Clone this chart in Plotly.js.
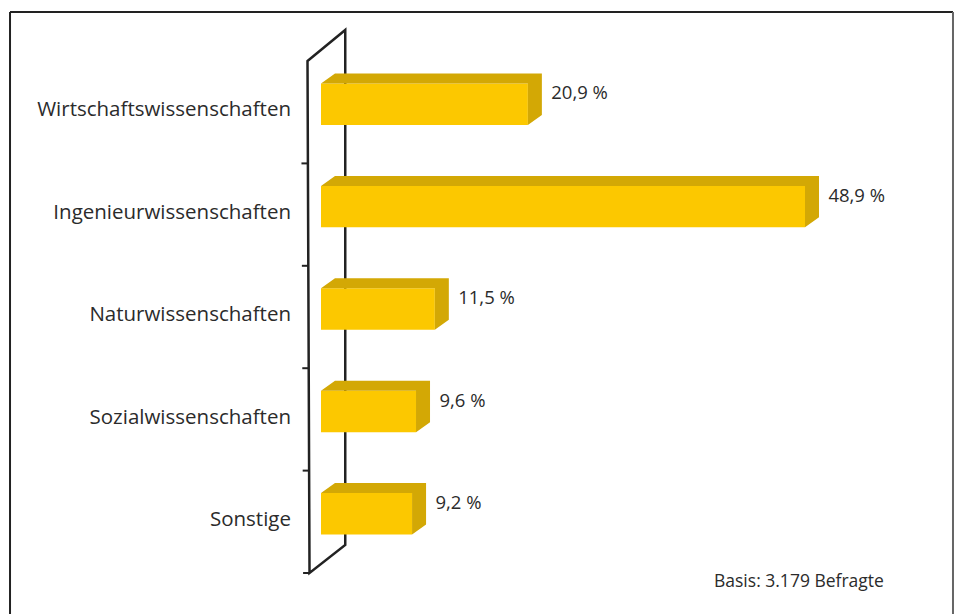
<!DOCTYPE html>
<html>
<head>
<meta charset="utf-8">
<script src="https://cdn.plot.ly/plotly-3.0.1.min.js"></script>
<style>html,body{margin:0;padding:0;background:#fff;}#chart{width:960px;height:614px;}</style>
</head>
<body>
<div id="chart"></div>
<script>
// ---- data ----
var categories = ["Wirtschaftswissenschaften", "Ingenieurwissenschaften", "Naturwissenschaften", "Sozialwissenschaften", "Sonstige"];
var values = [20.9, 48.9, 11.5, 9.6, 9.2];
var valueLabels = ["20,9 %", "48,9 %", "11,5 %", "9,6 %", "9,2 %"];
var note = "Basis: 3.179 Befragte";

// ---- geometry helpers (in axis units) ----
var pos = categories.map(function(_, i){ return i; });
var barWidth = 0.405, barOffset = -0.2805;
var depthX = 1.4144, depthY = 0.0977;
var FONT = '"Open Sans", "Noto Sans", sans-serif';
var front = '#FCC800', shade = '#D3A805';

var traces = [];
// top + side faces of each bar
values.forEach(function(v, i){
  var t = i + barOffset, b = t + barWidth;
  traces.push({
    type: 'scatter', mode: 'lines', fill: 'toself', fillcolor: shade,
    line: {width: 0, color: shade}, hoverinfo: 'skip', showlegend: false,
    x: [0, depthX, v + depthX, v + depthX, v, v, 0],
    y: [t, t - depthY, t - depthY, b - depthY, b, t, t]
  });
});
// front faces
traces.push({
  type: 'bar', orientation: 'h', x: values, y: pos,
  width: barWidth, offset: barOffset,
  marker: {color: front, line: {width: 0}},
  hoverinfo: 'x', showlegend: false
});
// value labels
traces.push({
  type: 'scatter', mode: 'text', showlegend: false, hoverinfo: 'skip',
  x: values.map(function(v){ return v + depthX + 0.95; }),
  y: pos.map(function(p){ return p - 0.17; }),
  text: valueLabels, textposition: 'middle right',
  textfont: {family: FONT, size: 18.5, color: '#2b2b2b'}
});

// wall (axis decoration)
var fx1 = -1.364, fx2 = -1.16, bx = 2.45;
var n = categories.length;
var shapes = [{
  type: 'path', xref: 'x', yref: 'y', layer: 'below',
  path: 'M ' + fx1 + ' -0.5 L ' + bx + ' -0.8027 L ' + bx + ' ' + (n - 0.5 - 0.2734) +
        ' L ' + fx2 + ' ' + (n - 0.5) + ' Z',
  line: {color: '#222', width: 2.5}, fillcolor: 'rgba(0,0,0,0)'
}];
for (var j = 1; j <= n; j++) {
  var fx = fx1 + (fx2 - fx1) * j / n;
  shapes.push({type: 'line', xref: 'x', yref: 'y', layer: 'below',
    x0: fx - 0.65, x1: fx, y0: j - 0.5, y1: j - 0.5,
    line: {color: '#222', width: 2}});
}
// outer frame
shapes.push({type:'line', xref:'paper', yref:'paper', x0:-0.4531, x1:1.0203, y0:1.0139, y1:1.0139, line:{color:'#222', width:2}});
shapes.push({type:'line', xref:'paper', yref:'paper', x0:-0.4531, x1:-0.4531, y0:1.0139, y1:-0.06, line:{color:'#222', width:2}});
shapes.push({type:'line', xref:'paper', yref:'paper', x0:1.0203, x1:1.0203, y0:1.0139, y1:-0.06, line:{color:'#666', width:2}});

var layout = {
  width: 960, height: 614,
  margin: {l: 300, r: 20, t: 20, b: 20},
  paper_bgcolor: '#fff', plot_bgcolor: '#fff',
  showlegend: false,
  xaxis: {range: [-2.1216, 62.538], visible: false, fixedrange: true},
  yaxis: {
    range: [4.705, -0.9004], tickmode: 'array',
    tickvals: pos.map(function(p){ return p - 0.03; }), ticktext: categories,
    ticks: '', showline: false, showgrid: false, zeroline: false,
    ticklabelstandoff: 8,
    tickfont: {family: FONT, size: 20.5, color: '#2b2b2b'}, fixedrange: true
  },
  shapes: shapes,
  annotations: [{
    xref: 'paper', yref: 'paper', x: 0.9156, y: 0.0244, xanchor: 'right', yanchor: 'middle',
    text: note, showarrow: false, font: {family: FONT, size: 17.5, color: '#2b2b2b'}
  }]
};
Plotly.newPlot('chart', traces, layout, {displayModeBar: false, staticPlot: true});
</script>
</body>
</html>
